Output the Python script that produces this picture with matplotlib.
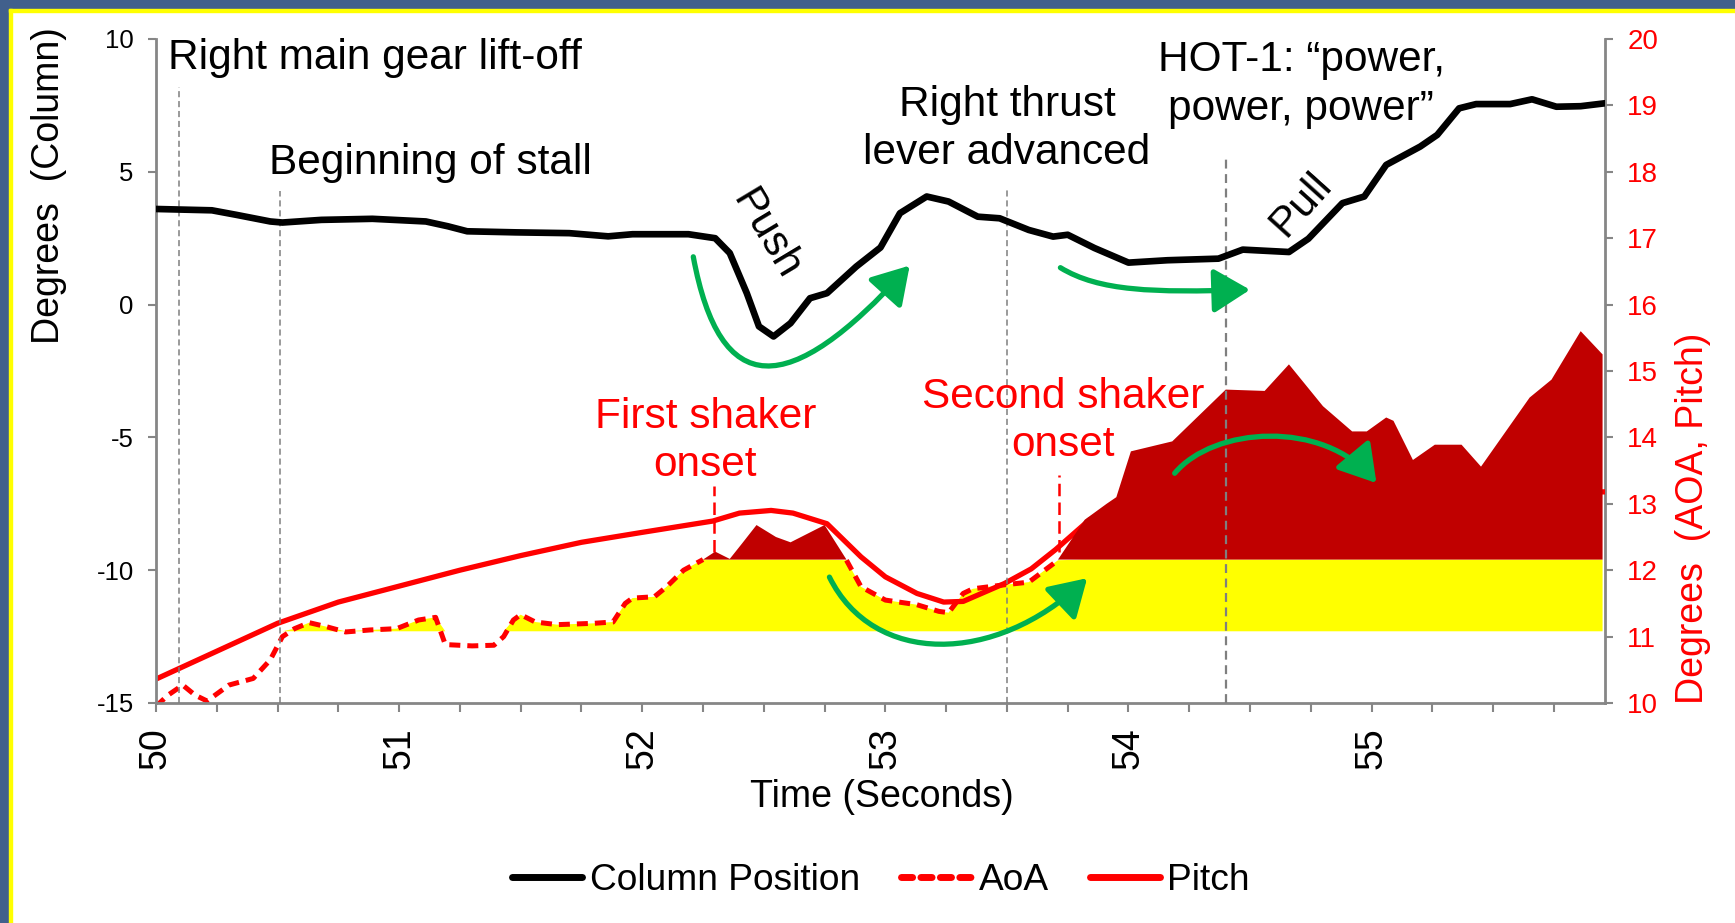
import numpy as np
import matplotlib
matplotlib.use("Agg")
import matplotlib.pyplot as plt
from matplotlib.path import Path
from matplotlib.patches import FancyArrowPatch, Rectangle
from matplotlib.lines import Line2D

plt.rcParams['font.family'] = ['Liberation Sans', 'DejaVu Sans']
plt.rcParams['axes.unicode_minus'] = False

# column position (left axis, degrees)
col_t = [50.00, 50.23, 50.33, 50.47, 50.52, 50.68, 50.89, 51.11, 51.20, 51.28,
         51.48, 51.70, 51.86, 51.96, 52.19, 52.30, 52.36, 52.43, 52.48, 52.54,
         52.61, 52.69, 52.76, 52.88, 52.98, 53.06, 53.17, 53.26, 53.38, 53.47,
         53.59, 53.69, 53.75, 53.86, 54.00, 54.16, 54.37, 54.47, 54.66, 54.74,
         54.88, 54.97, 55.06, 55.20, 55.27, 55.36, 55.43, 55.57, 55.66, 55.76,
         55.86, 55.96]
col_pos = [3.60, 3.55, 3.38, 3.13, 3.09, 3.19, 3.23, 3.13, 2.95, 2.76,
           2.72, 2.69, 2.57, 2.65, 2.65, 2.50, 1.94, 0.43, -0.82, -1.20,
           -0.70, 0.24, 0.43, 1.43, 2.15, 3.44, 4.07, 3.88, 3.31, 3.25,
           2.81, 2.56, 2.63, 2.13, 1.58, 1.67, 1.73, 2.07, 1.98, 2.48,
           3.82, 4.07, 5.26, 5.95, 6.39, 7.39, 7.55, 7.55, 7.73, 7.45,
           7.47, 7.58]

# pitch (right axis)
pitch_t = [50.00, 50.25, 50.50, 50.75, 51.00, 51.25, 51.50, 51.75, 52.00, 52.29,
           52.40, 52.53, 52.62, 52.76, 52.90, 53.00, 53.13, 53.24, 53.32, 53.49,
           53.60, 53.70, 53.84, 54.00, 54.50, 55.00, 55.50, 55.96]
pitch = [10.36, 10.78, 11.20, 11.52, 11.76, 12.00, 12.22, 12.42, 12.57, 12.74,
         12.86, 12.90, 12.86, 12.70, 12.20, 11.90, 11.65, 11.52, 11.53, 11.80,
         12.02, 12.31, 12.76, 12.95, 13.05, 13.10, 13.15, 13.18]

# angle of attack (right axis)
aoa_t = [50.00, 50.05, 50.11, 50.16, 50.21, 50.30, 50.40, 50.47, 50.52, 50.57,
         50.63, 50.70, 50.78, 50.88, 50.99, 51.08, 51.15, 51.19, 51.30, 51.39,
         51.43, 51.47, 51.50, 51.56, 51.65, 51.80, 51.88, 51.93, 51.96, 52.05,
         52.10, 52.17, 52.25, 52.30, 52.36, 52.41, 52.47, 52.55, 52.61, 52.68,
         52.75, 52.84, 52.90, 53.00, 53.13, 53.22, 53.26, 53.32, 53.36, 53.49,
         53.59, 53.71, 53.82, 53.91, 53.95, 54.01, 54.18, 54.40, 54.56, 54.66,
         54.80, 54.92, 54.98, 55.06, 55.09, 55.17, 55.26, 55.37, 55.45, 55.65,
         55.74, 55.86, 55.95]
aoa = [9.95, 10.12, 10.27, 10.12, 10.03, 10.27, 10.37, 10.65, 11.00, 11.12,
       11.21, 11.15, 11.07, 11.10, 11.12, 11.25, 11.29, 10.88, 10.86, 10.87,
       11.00, 11.25, 11.33, 11.22, 11.18, 11.20, 11.22, 11.50, 11.58, 11.60,
       11.75, 12.00, 12.16, 12.28, 12.17, 12.40, 12.68, 12.50, 12.42, 12.55,
       12.68, 12.15, 11.75, 11.55, 11.48, 11.38, 11.36, 11.65, 11.72, 11.78,
       11.82, 12.15, 12.76, 13.00, 13.10, 13.79, 13.94, 14.72, 14.70, 15.10,
       14.47, 14.09, 14.09, 14.30, 14.25, 13.66, 13.89, 13.89, 13.56, 14.60,
       14.87, 15.60, 15.25]

band_low = 11.08      # bottom of the yellow band
shaker_level = 12.16  # above this AoA is shaded dark red

# event markers (time, top of the dashed line on the left axis)
event_t = [50.095, 50.51, 53.50, 54.40]
event_top = [8.2, 4.26, 4.44, 5.57]
onset_t = [52.295, 53.716]
onset_top = [-6.84, -6.4]

BLACK = '#000000'
RED = '#ff0000'
DARKRED = '#c00000'
YELLOW = '#ffff00'
GREEN = '#00b050'
GRAY = '#868686'

fig = plt.figure(figsize=(17.35, 9.23), dpi=100, facecolor='white')
ax = fig.add_axes([156/1735, 1 - 703/923, (1605-156)/1735, (703-39)/923])
ax2 = ax.twinx()
ax.set_zorder(ax2.get_zorder() + 1)
ax.patch.set_visible(False)

# slide frame
fig.patches.append(Rectangle((0, 1 - 9/923), 1, 9/923, transform=fig.transFigure,
                             color='#41608c', zorder=0))
fig.patches.append(Rectangle((0, 0), 9/1735, 1, transform=fig.transFigure,
                             color='#41608c', zorder=0))
fig.patches.append(Rectangle((9/1735, 1 - 12/923), 1, 3/923, transform=fig.transFigure,
                             color=YELLOW, zorder=0))
fig.patches.append(Rectangle((9/1735, 0), 3/1735, 1 - 9/923, transform=fig.transFigure,
                             color=YELLOW, zorder=0))

# right axis: shaded AoA, AoA and pitch
aoa_t_a = np.array(aoa_t)
aoa_a = np.array(aoa)
ax2.fill_between(aoa_t_a, band_low, np.clip(aoa_a, band_low, shaker_level),
                 where=aoa_a > band_low, interpolate=True, color=YELLOW, lw=0, zorder=1)
ax2.plot(aoa_t_a, np.ma.masked_where(aoa_a > shaker_level, aoa_a), color=RED, lw=3.6,
         ls=(0, (2.2, 1.4)), zorder=2)
ax2.plot(pitch_t, pitch, color=RED, lw=3.8, zorder=3, solid_capstyle='round',
         solid_joinstyle='round')
ax2.fill_between(aoa_t_a, shaker_level, np.maximum(aoa_a, shaker_level),
                 where=aoa_a > shaker_level, interpolate=True, color=DARKRED, lw=0, zorder=4)

# left axis: column position
ax.plot(col_t, col_pos, color=BLACK, lw=4.8, solid_joinstyle='round',
        solid_capstyle='round', zorder=5)

for t, top, lw in zip(event_t, event_top, [1.1, 1.1, 1.1, 1.6]):
    ax.plot([t, t], [-15, top], color='#7f7f7f', lw=lw, ls=(0, (4, 2.5)), zorder=3)
for t, top in zip(onset_t, onset_top):
    ax.plot([t, t], [-9.33, top], color=RED, lw=1.8, ls=(0, (5, 2.5)), zorder=3)

# green hand-drawn arrows (left-axis coordinates)
arrows = [
    [(52.21, 1.8), (52.32, -3.6), (52.60, -3.6), (53.10, 1.47)],
    [(53.72, 1.39), (53.88, 0.50), (54.10, 0.45), (54.50, 0.56)],
    [(54.19, -6.35), (54.35, -4.60), (54.80, -4.30), (55.02, -6.72)],
    [(52.77, -10.26), (52.95, -13.6), (53.45, -13.6), (53.83, -10.30)],
]
for pts in arrows:
    p = Path(pts, [Path.MOVETO, Path.CURVE4, Path.CURVE4, Path.CURVE4])
    ax.add_patch(FancyArrowPatch(path=p, arrowstyle='-|>,head_length=1.4,head_width=0.85',
                                 mutation_scale=16, color=GREEN, lw=3.8, zorder=6))

# annotations
tkw = dict(fontsize=30.5, zorder=7)
ax.text(50.05, 9.3, 'Right main gear lift-off', ha='left', va='center', **tkw)
ax.text(50.465, 5.35, 'Beginning of stall', ha='left', va='center', **tkw)
ax.text(53.5, 6.6, 'Right thrust\nlever advanced', ha='center', va='center',
        linespacing=1.26, **tkw)
ax.text(54.71, 8.3, 'HOT-1: \u201cpower,\npower, power\u201d', ha='center', va='center',
        linespacing=1.3, **tkw)
ax.text(52.26, -5.15, 'First shaker\nonset', ha='center', va='center', color=RED,
        linespacing=1.26, **tkw)
ax.text(53.73, -4.4, 'Second shaker\nonset', ha='center', va='center', color=RED,
        linespacing=1.26, **tkw)
ax.text(52.51, 2.64, 'Push', rotation=-59, ha='center', va='center',
        rotation_mode='anchor', **tkw)
ax.text(54.71, 3.77, 'Pull', rotation=48, ha='center', va='center',
        rotation_mode='anchor', **tkw)

# axes styling
ax.set_xlim(50, 55.96)
ax.set_ylim(-15, 10)
ax2.set_ylim(10, 20)
ticks = np.arange(50, 55.9, 0.25)
ax.set_xticks(ticks)
ax.set_xticklabels([str(int(t)) if abs(t - round(t)) < 1e-9 else '' for t in ticks],
                   rotation=90, fontsize=27)
ax.set_yticks([-15, -10, -5, 0, 5, 10])
ax2.set_yticks(range(10, 21))
ax.tick_params(axis='x', direction='out', length=6.5, width=1.5, color=GRAY, pad=11)
ax.tick_params(axis='y', direction='out', length=6, width=1.5, color=GRAY, labelsize=18.5, pad=10)
ax2.tick_params(axis='y', direction='out', length=6, width=1.5, color=GRAY, labelsize=20,
                labelcolor=RED, pad=10)
for a in (ax, ax2):
    for s in a.spines.values():
        s.set_color(GRAY)
        s.set_linewidth(2)
    a.spines['top'].set_visible(False)
ax.spines['right'].set_visible(False)
ax2.spines['left'].set_visible(False)
ax2.spines['bottom'].set_visible(False)

fig.text(48.7/1735, 1 - 186/923, 'Degrees  (Column)', rotation=90, ha='center', va='center',
         fontsize=27)
fig.text(1693/1735, 1 - 518/923, 'Degrees  (AOA, Pitch)', rotation=90, ha='center',
         va='center', fontsize=27, color=RED)
fig.text(882/1735, 1 - 797/923, 'Time (Seconds)', ha='center', va='center', fontsize=27)

handles = [Line2D([], [], color=BLACK, lw=5, solid_capstyle='round'),
           Line2D([], [], color=RED, lw=5, ls=(0, (1.6, 1.2)), dash_capstyle='round'),
           Line2D([], [], color=RED, lw=5, solid_capstyle='round')]
fig.legend(handles, ['Column Position', 'AoA', 'Pitch'], loc='center',
           bbox_to_anchor=(881/1735, 1 - 880/923), ncol=3, frameon=False, fontsize=26.7,
           handlelength=1.9, handletextpad=0.2, columnspacing=1.1)

fig.savefig('out.png', dpi=100, facecolor='white')
